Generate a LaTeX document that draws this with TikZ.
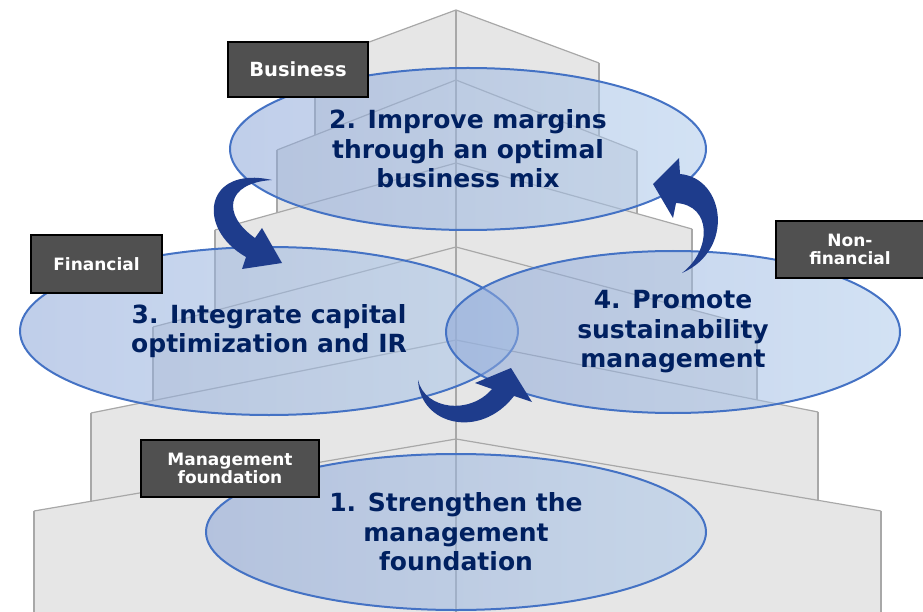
\documentclass[tikz,border=0pt]{standalone}
\usepackage{fontspec}
\setmainfont{DejaVu Sans}
\usetikzlibrary{shapes.geometric}
\definecolor{navy}{RGB}{0,32,96}
\definecolor{ringblue}{RGB}{68,114,196}
\definecolor{arrowblue}{RGB}{30,60,140}
\definecolor{tagfill}{RGB}{80,80,80}
\definecolor{wallgray}{RGB}{230,230,230}
\definecolor{edgegray}{RGB}{168,168,168}
\definecolor{ringleft}{RGB}{140,166,216}
\definecolor{ringright}{RGB}{174,202,235}

\begin{document}
\begin{tikzpicture}[x=1pt,y=-1pt,
  themering/.style={ellipse, draw=ringblue, line width=2pt,
    left color=ringleft, right color=ringright,
    fill opacity=0.55, text opacity=1, draw opacity=1,
    inner sep=0pt, align=center, text=navy,
    font=\fontsize{25}{29.5}\selectfont\bfseries},
  tagbox/.style={draw=black, line width=2pt, fill=tagfill, text=white,
    align=center, inner sep=0pt,
    font=\fontsize{17}{18.5}\selectfont\bfseries},
  swoosh/.style={fill=arrowblue},
  tierline/.style={draw=edgegray, line width=1.2pt}]

\useasboundingbox (0,0) rectangle (923,612);

% stepped tower in the background
\fill[wallgray] (34,612) -- (34,511) -- (91,501) -- (91,413) -- (153,401)
  -- (153,327) -- (215,311) -- (215,230) -- (277,213) -- (277,150)
  -- (315,135) -- (315,62) -- (456,10) -- (599,63) -- (599,136)
  -- (637,151) -- (637,214) -- (692,229) -- (692,310) -- (757,327)
  -- (757,400) -- (818,412) -- (818,501) -- (881,511) -- (881,612) -- cycle;

% roof lines of each tier
\draw[tierline] (315,62) -- (456,10) -- (599,63);
\draw[tierline] (277,150) -- (456,80) -- (637,151);
\draw[tierline] (215,230) -- (456,163) -- (692,229);
\draw[tierline] (153,327) -- (456,247) -- (757,327);
\draw[tierline] (91,413) -- (456,340) -- (818,412);
\draw[tierline] (34,511) -- (456,439) -- (881,511);

% side walls of each tier
\draw[tierline] (315,62) -- (315,135) (599,63) -- (599,136);
\draw[tierline] (277,150) -- (277,213) (637,151) -- (637,214);
\draw[tierline] (215,230) -- (215,311) (692,229) -- (692,310);
\draw[tierline] (153,327) -- (153,401) (757,327) -- (757,400);
\draw[tierline] (91,413) -- (91,501) (818,412) -- (818,501);
\draw[tierline] (34,511) -- (34,612) (881,511) -- (881,612);

% front corner edge
\draw[tierline] (456,10) -- (456,612);

% the four themes
\node[themering, minimum width=476pt, minimum height=162pt] (biz) at (468,149)
  {2. Improve margins\\through an optimal\\business mix};
\node[themering, minimum width=498pt, minimum height=168pt] (fin) at (269,331)
  {3. Integrate capital\\optimization and IR};
\node[themering, minimum width=454pt, minimum height=162pt] (sus) at (673,332)
  {4. Promote\\sustainability\\management};
\node[themering, minimum width=500pt, minimum height=156pt] (base) at (456,532)
  {1. Strengthen the\\management\\foundation};

% curved block arrows linking the themes
\fill[swoosh] (272,180) .. controls (205,165) and (195,228) .. (246,257)
  -- (242,269) -- (282,263) -- (262,228) -- (255,238)
  .. controls (222,215) and (225,183) .. (272,180) -- cycle;
\fill[swoosh] (682,273) .. controls (735,250) and (725,178) .. (680,174)
  -- (679,158) -- (653,184) -- (673,218) -- (676,203)
  .. controls (712,205) and (712,250) .. (682,273) -- cycle;
\fill[swoosh] (418,380) .. controls (420,425) and (480,440) .. (514,396)
  -- (532,402) -- (511,368) -- (475,383) -- (492,389)
  .. controls (470,415) and (425,410) .. (418,380) -- cycle;

% category tags
\node[tagbox, minimum width=140pt, minimum height=55pt] (tbiz) at (298,69.5)
  {\fontsize{19.5}{20}\selectfont Business};
\node[tagbox, minimum width=131pt, minimum height=58pt] (tfin) at (96.5,264)
  {Financial};
\node[tagbox, minimum width=149pt, minimum height=57pt] (tnon) at (850,249.5)
  {Non-\\financial};
\node[tagbox, minimum width=178pt, minimum height=57pt] (tman) at (230,468.5)
  {Management\\foundation};

\end{tikzpicture}
\end{document}
